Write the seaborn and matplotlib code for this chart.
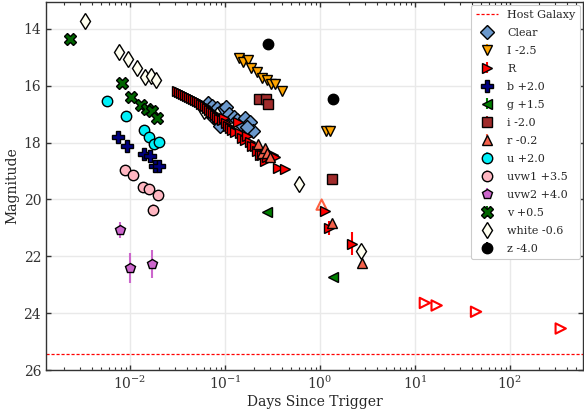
import numpy as np
import matplotlib
matplotlib.use("Agg")
import matplotlib.pyplot as plt
import matplotlib.ticker as mticker
import seaborn as sns

# ---------------- data (days since trigger, magnitude) ----------------
host_mag = 25.45

clear_t = [0.0662, 0.0730, 0.0824, 0.0929, 0.1025, 0.0748, 0.0865, 0.110, 0.124, 0.134,
           0.147, 0.162, 0.183, 0.197, 0.0886, 0.170]
clear_m = [16.61, 16.72, 16.79, 16.86, 16.76, 17.11, 17.25, 17.00, 17.11, 17.22,
           17.36, 17.14, 17.29, 17.60, 17.43, 17.45]

I_t = [0.140, 0.153, 0.176, 0.186, 0.216, 0.243, 0.275, 0.303, 0.336, 0.395, 1.156, 1.27]
I_m = [15.01, 15.15, 15.10, 15.39, 15.51, 15.71, 15.78, 15.95, 15.95, 16.18, 17.60, 17.60]

R_t = [0.0313, 0.0328, 0.0344, 0.0361, 0.0379, 0.0398, 0.0418, 0.0439, 0.0460, 0.0483,
       0.0507, 0.0532, 0.0559, 0.0587, 0.0616, 0.0647, 0.0679, 0.0713, 0.0748, 0.0785,
       0.0824, 0.0865, 0.0929, 0.0975, 0.1025, 0.1076, 0.1129, 0.1185, 0.1274, 0.1371,
       0.1439, 0.1510, 0.1624, 0.1705, 0.1833, 0.1924, 0.2069, 0.2172, 0.2336, 0.2451,
       0.2636, 0.2767, 0.3049, 0.3200, 0.3359, 0.3613, 0.4284,
       1.13, 1.25, 2.16]
R_m = [16.19, 16.23, 16.26, 16.30, 16.33, 16.37, 16.40, 16.44, 16.47, 16.51,
       16.54, 16.58, 16.65, 16.69, 16.72, 16.79, 16.86, 16.93, 16.97, 17.04,
       17.11, 17.18, 17.22, 17.14, 17.32, 17.43, 17.50, 17.57, 17.64, 17.29,
       17.67, 17.82, 17.92, 17.75, 17.99, 18.13, 18.10, 18.28, 18.45, 18.45,
       18.63, 18.52, 18.45, 18.45, 18.52, 18.88, 18.91,
       20.40, 21.01, 21.55]
R_e = [0.0] * 47 + [0.05, 0.24, 0.40]
R_lim_t = [12.7, 16.9, 43.9, 342.0]
R_lim_m = [23.64, 23.73, 23.95, 24.54]

b_t = [0.0074, 0.00937, 0.01415, 0.01626, 0.0183, 0.0202]
b_m = [17.80, 18.12, 18.39, 18.46, 18.81, 18.81]

g_t = [0.275, 1.36]
g_m = [20.43, 22.72]

i_t = [0.228, 0.268, 0.281, 1.35]
i_m = [16.47, 16.48, 16.63, 19.28]

r_t = [0.2225, 0.2451, 0.2636, 0.2767, 0.2976, 1.33, 2.75]
r_m = [18.03, 18.35, 18.20, 18.35, 18.52, 20.81, 22.24]
r_lim_t = [1.04]
r_lim_m = [20.18]

u_t = [0.00577, 0.00908, 0.0140, 0.0158, 0.0180, 0.0201]
u_m = [16.52, 17.07, 17.55, 17.80, 18.04, 17.98]

uvw1_t = [0.0088, 0.01084, 0.0137, 0.0157, 0.0196, 0.01758]
uvw1_m = [18.97, 19.14, 19.57, 19.64, 19.85, 20.36]
uvw1_e = [0.0, 0.0, 0.0, 0.0, 0.0, 0.2]

uvw2_t = [0.00785, 0.0099, 0.0169]
uvw2_m = [21.07, 22.41, 22.26]
uvw2_e = [0.28, 0.53, 0.49]

v_t = [0.00234, 0.00817, 0.01017, 0.01305, 0.0150, 0.0172, 0.0191]
v_m = [14.36, 15.90, 16.39, 16.69, 16.80, 16.90, 17.12]

white_t = [0.00336, 0.00766, 0.0096, 0.01175, 0.0145, 0.0166, 0.0186, 0.0605, 0.0819, 0.60, 2.69]
white_m = [13.72, 14.82, 15.05, 15.39, 15.68, 15.64, 15.80, 16.90, 17.04, 19.45, 21.81]

z_t = [0.286, 1.36]
z_m = [14.54, 16.48]

x_major = [1e-2, 1e-1, 1e0, 1e1, 1e2]
y_major = [14, 16, 18, 20, 22, 24, 26]

# ---------------- style ----------------
sns.set_style("whitegrid", {
    "grid.color": "#e9e9e9",
    "axes.edgecolor": "#333333",
    "xtick.direction": "in",
    "ytick.direction": "in",
    "xtick.bottom": True, "xtick.top": True,
    "ytick.left": True, "ytick.right": True,
    "xtick.color": "#333333", "ytick.color": "#333333",
})
plt.rcParams["font.family"] = ["DejaVu Serif"]
plt.rcParams["mathtext.fontset"] = "dejavuserif"

fig = plt.figure(figsize=(5.84, 4.12), dpi=100)
ax = fig.add_axes([46 / 584, 42 / 412, 537 / 584, 368 / 412])

ax.axhline(host_mag, color="red", ls=(0, (2.5, 1.5)), lw=0.9, label="Host Galaxy", zorder=1)

def eb(t, m, e, fmt, color, label, ms=7, mew=1.0, z=3):
    if e is None:
        e = [0.0] * len(t)
    ax.errorbar(t, m, yerr=e, fmt=fmt, color=color, ecolor=color, mfc=color,
                mec="black", mew=mew, ms=ms, elinewidth=1.5, capsize=0,
                label=label, zorder=z)

eb(clear_t, clear_m, None, "D", "#6a98cc", "Clear", ms=7)
eb(I_t, I_m, None, "v", "#ffa500", "I -2.5", ms=7.5)
eb(R_t, R_m, R_e, ">", "#ff0000", "R", ms=7.5, z=4)
eb(b_t, b_m, None, "P", "#000080", "b +2.0", ms=8)
eb(g_t, g_m, None, "<", "#008000", "g +1.5", ms=7.5)
eb(i_t, i_m, None, "s", "#a02b2b", "i -2.0", ms=7.5)
eb(r_t, r_m, None, "^", "#f4614b", "r -0.2", ms=7.5, z=5)
eb(u_t, u_m, None, "o", "#00f0f8", "u +2.0", ms=7.5)
eb(uvw1_t, uvw1_m, uvw1_e, "o", "#ffb6c1", "uvw1 +3.5", ms=7.5)
eb(uvw2_t, uvw2_m, uvw2_e, "p", "#cc66cc", "uvw2 +4.0", ms=7.5)
eb(v_t, v_m, None, "X", "#006400", "v +0.5", ms=8)
eb(white_t, white_m, None, "d", "#fffff0", "white -0.6", ms=8.3)
eb(z_t, z_m, None, "o", "#000000", "z -4.0", ms=7.5)

# upper limits (hollow markers)
sns.scatterplot(x=R_lim_t, y=R_lim_m, marker=">", s=55, facecolors="none",
                edgecolor="#ff0000", linewidth=1.5, ax=ax, zorder=4, legend=False)
sns.scatterplot(x=r_lim_t, y=r_lim_m, marker="^", s=55, facecolors="none",
                edgecolor="#ff6040", linewidth=1.5, ax=ax, zorder=4, legend=False)

ax.set_xscale("log")
ax.set_xlim(0.001305, 587)
ax.set_ylim(26, 13.05)
ax.xaxis.set_major_locator(mticker.FixedLocator(x_major))
ax.xaxis.set_major_formatter(mticker.LogFormatterSciNotation())
ax.xaxis.set_minor_locator(mticker.LogLocator(base=10, subs=np.arange(2, 10), numticks=20))
ax.xaxis.set_minor_formatter(mticker.NullFormatter())
ax.set_yticks(y_major)
ax.tick_params(axis="both", which="major", labelsize=10, length=3.5, width=1)
ax.tick_params(axis="both", which="minor", length=2, width=0.8)
ax.tick_params(axis="y", which="minor", left=False, right=False)
ax.grid(True, which="major", lw=1)
ax.grid(False, which="minor")
for s in ax.spines.values():
    s.set_linewidth(1.0)

ax.set_xlabel("Days Since Trigger", fontsize=10, labelpad=2)
ax.set_ylabel("Magnitude", fontsize=10, labelpad=3)

leg = ax.legend(loc="upper right", fontsize=8, frameon=True, framealpha=1,
                edgecolor="#cccccc", borderaxespad=0.25, labelspacing=0.72,
                handlelength=2.0, handletextpad=0.8, borderpad=0.45)
leg.get_frame().set_linewidth(0.8)

fig.savefig("out.png", dpi=100)
